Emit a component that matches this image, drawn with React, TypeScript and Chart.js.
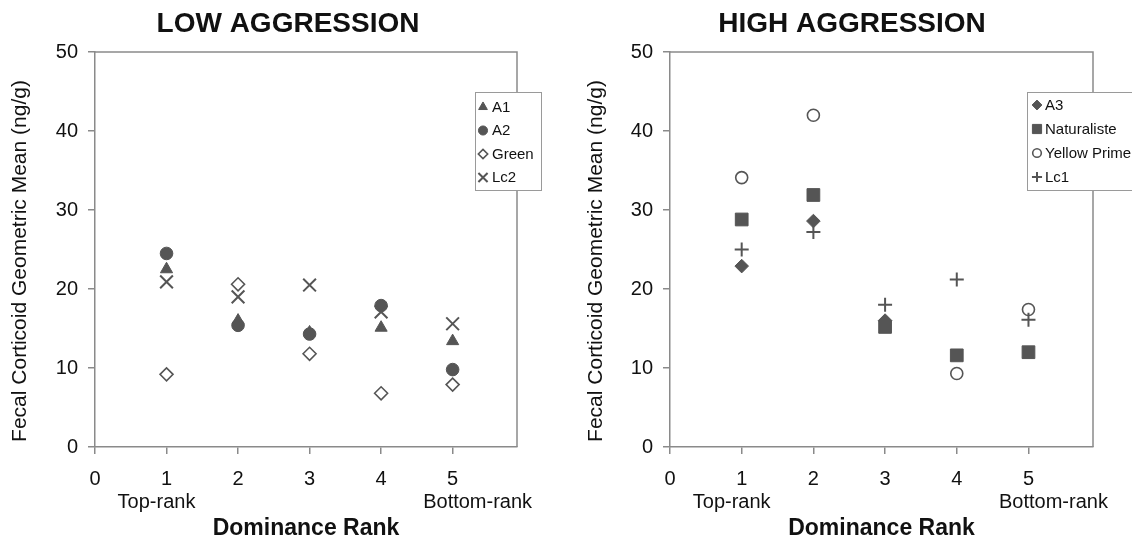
import React, { useEffect, useRef } from 'react';
import { Chart, registerables } from 'chart.js';
import { drawPoint } from 'chart.js/helpers';

Chart.register(...registerables);

// ---------- data ----------
const ranks = [1, 2, 3, 4, 5];
const rankNotes = ['Top-rank', 'Bottom-rank'];
const yAxisLabel = 'Fecal Corticoid Geometric Mean (ng/g)';
const xAxisLabel = 'Dominance Rank';

const lowTitle = 'LOW AGGRESSION';
const lowNames = ['A1', 'A2', 'Green', 'Lc2'];
const a1 = [22.5, 16.0, 14.5, 15.1, 13.4];
const a2 = [24.5, 15.4, 14.3, 17.9, 9.8];
const green = [9.2, 20.6, 11.8, 6.8, 7.9];
const lc2 = [20.9, 19.0, 20.5, 17.1, 15.6];

const highTitle = 'HIGH AGGRESSION';
const highNames = ['A3', 'Naturaliste', 'Yellow Prime', 'Lc1'];
const a3 = [22.9, 28.6, 16.0, null, null];
const naturaliste = [28.8, 31.9, 15.2, 11.6, 12.0];
const yellowPrime = [34.1, 42.0, null, 9.3, 17.4];
const lc1 = [25.0, 27.2, 18.0, 21.2, 16.1];

// ---------- styles ----------
const FONT = 'Arial, "Liberation Sans", sans-serif';
const DARK = '#555555';
const AXIS = '#8a8a8a';
const TEXT = '#111111';

type Style = { pointStyle: string; radius: number; bg: string; border: string; bw: number };
const lowStyles: Style[] = [
  { pointStyle: 'triangle', radius: 7, bg: DARK, border: DARK, bw: 1 },
  { pointStyle: 'circle', radius: 6.3, bg: DARK, border: DARK, bw: 1 },
  { pointStyle: 'rectRot', radius: 6.5, bg: '#ffffff', border: DARK, bw: 1.6 },
  { pointStyle: 'crossRot', radius: 9, bg: DARK, border: DARK, bw: 2 },
];
const highStyles: Style[] = [
  { pointStyle: 'rectRot', radius: 6.8, bg: DARK, border: DARK, bw: 1 },
  { pointStyle: 'rect', radius: 9, bg: DARK, border: DARK, bw: 1 },
  { pointStyle: 'circle', radius: 6, bg: '#ffffff', border: DARK, bw: 1.6 },
  { pointStyle: 'cross', radius: 7, bg: DARK, border: DARK, bw: 2 },
];

function toPoints(vals: (number | null)[]) {
  const pts: { x: number; y: number }[] = [];
  vals.forEach((v, i) => {
    if (v !== null) pts.push({ x: ranks[i], y: v });
  });
  return pts;
}

function makeDatasets(names: string[], series: (number | null)[][], styles: Style[]) {
  return names.map((name, i) => ({
    label: name,
    data: toPoints(series[i]),
    pointStyle: styles[i].pointStyle,
    pointRadius: styles[i].radius,
    pointHoverRadius: styles[i].radius,
    backgroundColor: styles[i].bg,
    borderColor: styles[i].border,
    pointBorderWidth: styles[i].bw,
    borderWidth: styles[i].bw,
    showLine: false,
    order: names.length - i,
  }));
}

const decorPlugin = {
  id: 'decor',
  afterDraw(chart: any, _args: any, o: any) {
    const { ctx, chartArea: ca, scales } = chart;
    ctx.save();
    // plot frame (top & right)
    ctx.strokeStyle = AXIS;
    ctx.lineWidth = 1.5;
    ctx.beginPath();
    ctx.moveTo(ca.left, ca.top);
    ctx.lineTo(ca.right, ca.top);
    ctx.lineTo(ca.right, ca.bottom);
    ctx.stroke();

    // title
    ctx.fillStyle = TEXT;
    ctx.font = `bold 28px ${FONT}`;
    ctx.textAlign = 'center';
    ctx.textBaseline = 'middle';
    ctx.fillText(o.title, o.titleX, o.titleY);

    // y axis title (rotated)
    ctx.save();
    ctx.translate(o.yTitleX, o.yTitleY);
    ctx.rotate(-Math.PI / 2);
    ctx.font = `21px ${FONT}`;
    ctx.fillText(yAxisLabel, 0, 0);
    ctx.restore();

    // rank notes under ticks
    ctx.font = `20px ${FONT}`;
    const xs = scales.x;
    ctx.fillText(rankNotes[0], xs.getPixelForValue(ranks[0]) + o.noteDx[0], o.noteY);
    ctx.fillText(rankNotes[1], xs.getPixelForValue(ranks[ranks.length - 1]) + o.noteDx[1], o.noteY);

    // legend
    const L = o.legend;
    ctx.fillStyle = '#ffffff';
    ctx.fillRect(L.x, L.y, L.w, L.h);
    ctx.strokeStyle = '#9a9a9a';
    ctx.lineWidth = 1;
    ctx.strokeRect(L.x + 0.5, L.y + 0.5, L.w, L.h);
    chart.data.datasets.forEach((ds: any, i: number) => {
      const y = L.y + L.first + i * L.step;
      ctx.fillStyle = ds.backgroundColor;
      ctx.strokeStyle = ds.borderColor;
      ctx.lineWidth = ds.pointBorderWidth;
      drawPoint(
        ctx,
        { pointStyle: ds.pointStyle, radius: ds.pointRadius * 0.72, rotation: 0, borderWidth: ds.pointBorderWidth },
        L.x + L.markerDx,
        y
      );
      ctx.fillStyle = TEXT;
      ctx.font = `15px ${FONT}`;
      ctx.textAlign = 'left';
      ctx.textBaseline = 'middle';
      ctx.fillText(ds.label, L.x + L.textDx, y + 0.5);
    });
    ctx.restore();
  },
};

function makeConfig(p: {
  datasets: any[];
  title: string;
  titleX: number;
  yWidth: number;
  rightPad: number;
  yTitleX: number;
  legend: any;
}) {
  return {
    type: 'scatter',
    data: { datasets: p.datasets },
    plugins: [decorPlugin],
    options: {
      animation: false,
      responsive: false,
      devicePixelRatio: 1,
      layout: { padding: { top: 52, right: p.rightPad, bottom: 0, left: 0 } },
      plugins: {
        legend: { display: false },
        title: { display: false },
        tooltip: { enabled: false },
        decor: {
          title: p.title,
          titleX: p.titleX,
          titleY: 24,
          yTitleX: p.yTitleX,
          yTitleY: 261,
          noteY: 502,
          noteDx: [-10, 25],
          legend: p.legend,
        },
      },
      scales: {
        x: {
          type: 'linear',
          min: 0,
          max: 5.9,
          afterFit: (s: any) => {
            s.height = 95;
          },
          ticks: {
            stepSize: 1,
            includeBounds: false,
            padding: 13,
            color: TEXT,
            font: { family: FONT, size: 20 },
            callback: (v: number) => (Number.isInteger(v) ? String(v) : ''),
          },
          grid: { display: true, drawOnChartArea: false, drawTicks: true, tickLength: 7, color: AXIS, lineWidth: 1.5 },
          border: { display: true, color: AXIS, width: 1.5 },
          title: {
            display: true,
            text: xAxisLabel,
            color: TEXT,
            font: { family: FONT, size: 23, weight: 'bold' },
            padding: { top: 0, bottom: 0 },
          },
        },
        y: {
          type: 'linear',
          min: 0,
          max: 50,
          afterFit: (s: any) => {
            s.width = p.yWidth;
          },
          ticks: {
            stepSize: 10,
            padding: 10,
            color: TEXT,
            font: { family: FONT, size: 20 },
          },
          grid: { display: true, drawOnChartArea: false, drawTicks: true, tickLength: 7, color: AXIS, lineWidth: 1.5 },
          border: { display: true, color: AXIS, width: 1.5 },
          title: { display: false },
        },
      },
    },
  };
}

function ChartCanvas({ config, width, left }: { config: any; width: number; left: number }) {
  const ref = useRef<HTMLCanvasElement | null>(null);
  useEffect(() => {
    const chart = new Chart(ref.current as HTMLCanvasElement, config);
    return () => chart.destroy();
  }, [config]);
  return (
    <canvas
      ref={ref}
      width={width}
      height={542}
      style={{ position: 'absolute', left, top: 0, width, height: 542 }}
    />
  );
}

const lowConfig = makeConfig({
  datasets: makeDatasets(lowNames, [a1, a2, green, lc2], lowStyles),
  title: lowTitle,
  titleX: 288,
  yWidth: 95,
  rightPad: 43,
  yTitleX: 20,
  legend: { x: 475, y: 92, w: 66, h: 98, first: 15, step: 23.5, markerDx: 8, textDx: 17 },
});

const highConfig = makeConfig({
  datasets: makeDatasets(highNames, [a3, naturaliste, yellowPrime, lc1], highStyles),
  title: highTitle,
  titleX: 292,
  yWidth: 110,
  rightPad: 39,
  yTitleX: 36,
  legend: { x: 467, y: 92, w: 110, h: 98, first: 13, step: 24, markerDx: 10, textDx: 18 },
});

export default function App() {
  return (
    <div style={{ position: 'fixed', left: 0, top: 0, width: 1132, height: 542, background: '#ffffff', overflow: 'hidden' }}>
      <ChartCanvas config={lowConfig} width={560} left={0} />
      <ChartCanvas config={highConfig} width={572} left={560} />
    </div>
  );
}
